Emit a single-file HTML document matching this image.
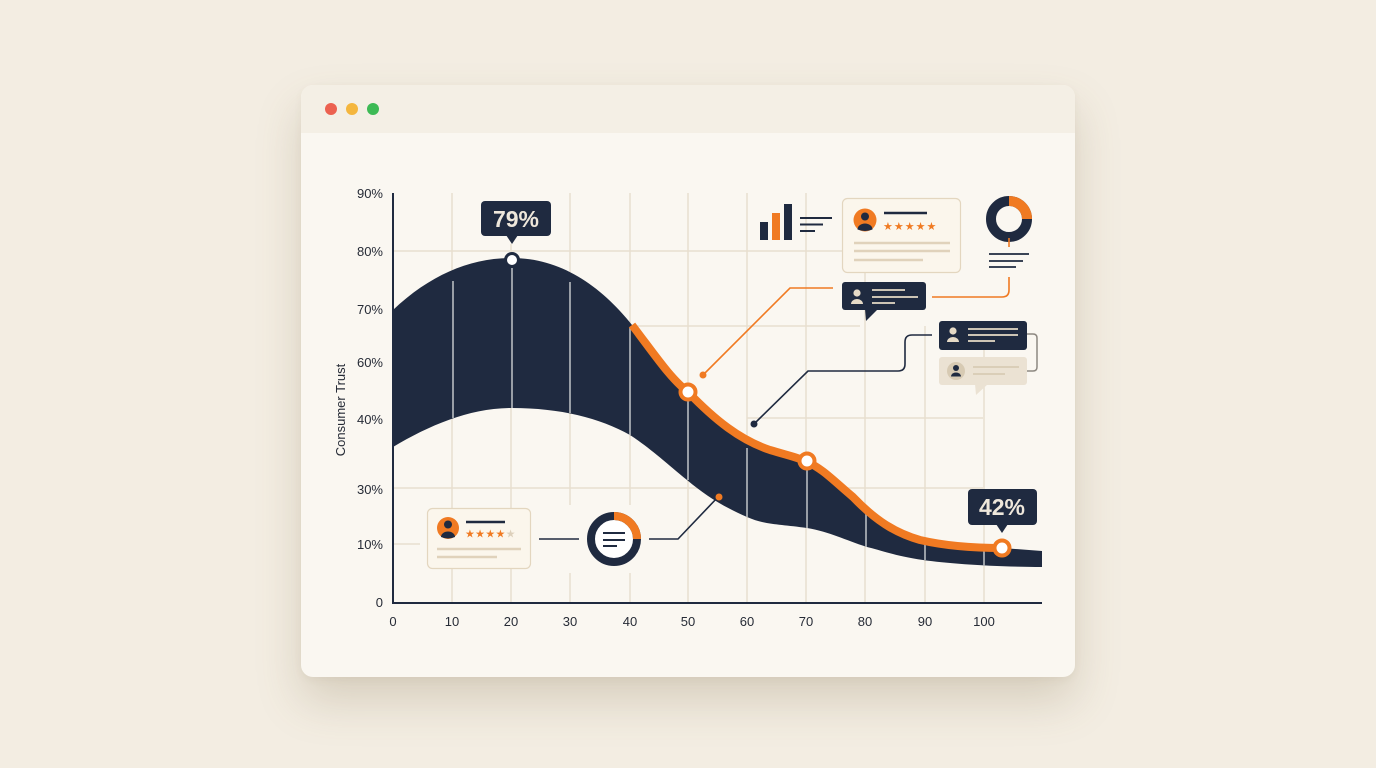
<!DOCTYPE html>
<html>
<head>
<meta charset="utf-8">
<style>
  html, body { margin:0; padding:0; }
  body { width:1376px; height:768px; background:#f3ede2; position:relative; overflow:hidden;
         font-family:"Liberation Sans", sans-serif; }
  .win { position:absolute; left:301px; top:85px; width:774px; height:592px; border-radius:12px;
         background:#faf7f1; box-shadow:0 24px 45px rgba(120,98,65,0.22), 0 3px 8px rgba(120,98,65,0.06); }
  .bar { position:absolute; left:0; top:0; width:774px; height:48px; border-radius:12px 12px 0 0; background:#f4efe5; }
  svg { position:absolute; left:0; top:0; }
</style>
</head>
<body>
<div class="win"><div class="bar"></div></div>
<svg width="1376" height="768" viewBox="0 0 1376 768" xmlns="http://www.w3.org/2000/svg">
  <!-- traffic lights -->
  <circle cx="331" cy="109" r="6" fill="#ec6150"/>
  <circle cx="352" cy="109" r="6" fill="#f4b63e"/>
  <circle cx="373" cy="109" r="6" fill="#3dba55"/>

  <!-- grid -->
  <g stroke="#e8dfcf" stroke-width="1.5" fill="none">
    <line x1="452" y1="193" x2="452" y2="603"/>
    <line x1="511" y1="244" x2="511" y2="603"/>
    <line x1="570" y1="193" x2="570" y2="603"/>
    <line x1="630" y1="193" x2="630" y2="603"/>
    <line x1="688" y1="193" x2="688" y2="603"/>
    <line x1="747" y1="193" x2="747" y2="603"/>
    <line x1="806" y1="193" x2="806" y2="603"/>
    <line x1="865" y1="273" x2="865" y2="603"/>
    <line x1="925" y1="326" x2="925" y2="603"/>
    <line x1="984" y1="350" x2="984" y2="603"/>
    <line x1="393" y1="251" x2="842" y2="251"/>
    <line x1="393" y1="326" x2="860" y2="326"/>
    <line x1="747" y1="418" x2="983" y2="418"/>
    <line x1="393" y1="488" x2="983" y2="488"/>
    <line x1="393" y1="544" x2="420" y2="544"/>
  </g>

  <!-- background covers -->
  <g fill="#faf7f1">
    <rect x="560" y="505" width="85" height="68"/>
  </g>

  <!-- dark band -->
  <path d="M393,310 C430,275 470,258 512,258 C560,258 600,285 632,325
           C655,355 670,378 688,392 C715,420 740,440 770,450 C790,456 800,458 807,462
           C822,468 835,482 853,497 C875,520 895,533 920,540 C950,547 980,548 1002,548
           L1042,551 L1042,567
           C1000,567 950,564 923,560 C895,556 880,550 867,547 C845,540 830,532 807,528
           C780,524 765,525 747,517 C720,505 705,495 687,480 C665,462 650,448 630,435
           C600,418 560,408 512,408 C470,408 430,425 393,447 Z" fill="#1f2a40"/>

  <!-- inner light lines -->
  <g stroke="#b8bbc0" stroke-width="1.6">
    <line x1="453" y1="281" x2="453" y2="418"/>
    <line x1="512" y1="268" x2="512" y2="408"/>
    <line x1="570" y1="282" x2="570" y2="413"/>
    <line x1="630" y1="328" x2="630" y2="435"/>
    <line x1="688" y1="400" x2="688" y2="480"/>
    <line x1="747" y1="448" x2="747" y2="517"/>
    <line x1="807" y1="470" x2="807" y2="528"/>
    <line x1="866" y1="513" x2="866" y2="547"/>
    <line x1="925" y1="543" x2="925" y2="560"/>
    <line x1="984" y1="551" x2="984" y2="566"/>
  </g>

  <!-- orange line -->
  <path d="M632,325 C655,355 670,378 688,392 C715,420 740,440 770,450 C790,456 800,458 807,462
           C822,468 835,482 853,497 C875,520 895,533 920,540 C950,547 980,548 1002,548"
        fill="none" stroke="#f07a22" stroke-width="8"/>

  <!-- axes -->
  <line x1="393" y1="193" x2="393" y2="604" stroke="#1f2a40" stroke-width="2"/>
  <line x1="392" y1="603" x2="1042" y2="603" stroke="#1f2a40" stroke-width="2"/>

  <!-- y labels -->
  <g font-family="Liberation Sans, sans-serif" font-size="13" fill="#262b36" text-anchor="end">
    <text x="383" y="198">90%</text>
    <text x="383" y="256">80%</text>
    <text x="383" y="314">70%</text>
    <text x="383" y="367">60%</text>
    <text x="383" y="424">40%</text>
    <text x="383" y="494">30%</text>
    <text x="383" y="549">10%</text>
    <text x="383" y="607">0</text>
  </g>
  <text transform="translate(345,410) rotate(-90)" text-anchor="middle" font-family="Liberation Sans, sans-serif" font-size="13" fill="#262b36">Consumer Trust</text>

  <!-- x labels -->
  <g font-family="Liberation Sans, sans-serif" font-size="13" fill="#262b36" text-anchor="middle">
    <text x="393" y="626">0</text>
    <text x="452" y="626">10</text>
    <text x="511" y="626">20</text>
    <text x="570" y="626">30</text>
    <text x="630" y="626">40</text>
    <text x="688" y="626">50</text>
    <text x="747" y="626">60</text>
    <text x="806" y="626">70</text>
    <text x="865" y="626">80</text>
    <text x="925" y="626">90</text>
    <text x="984" y="626">100</text>
  </g>

  <!-- markers -->
  <circle cx="512" cy="260" r="6.5" fill="#ffffff" stroke="#1f2a40" stroke-width="3"/>
  <circle cx="688" cy="392" r="7.5" fill="#ffffff" stroke="#f07a22" stroke-width="4"/>
  <circle cx="807" cy="461" r="7.5" fill="#ffffff" stroke="#f07a22" stroke-width="4"/>
  <circle cx="1002" cy="548" r="7.5" fill="#ffffff" stroke="#f07a22" stroke-width="4"/>

  <!-- tooltips -->
  <rect x="481" y="201" width="70" height="35" rx="4" fill="#1f2a40"/>
  <path d="M506,235 L518,235 L512,244 Z" fill="#1f2a40"/>
  <text x="516" y="227" text-anchor="middle" font-family="Liberation Sans, sans-serif" font-weight="bold" font-size="23" fill="#eee7db">79%</text>

  <rect x="968" y="489" width="69" height="36" rx="4" fill="#1f2a40"/>
  <path d="M996,524 L1008,524 L1002,533 Z" fill="#1f2a40"/>
  <text x="1002" y="515" text-anchor="middle" font-family="Liberation Sans, sans-serif" font-weight="bold" font-size="23" fill="#eee7db">42%</text>

  <!-- orange connector -->
  <path d="M703,375 L790,288 L833,288" fill="none" stroke="#f07a22" stroke-width="1.6"/>
  <circle cx="703" cy="375" r="3.5" fill="#f07a22"/>

  <!-- navy connector -->
  <path d="M754,424 L808,371 L898,371 Q905,371 905,364 V342 Q905,335 912,335 L932,335" fill="none" stroke="#1f2a40" stroke-width="1.6"/>
  <circle cx="754" cy="424" r="3.5" fill="#1f2a40"/>

  <!-- bar chart icon -->
  <rect x="760" y="222" width="8" height="18" fill="#1f2a40"/>
  <rect x="772" y="213" width="8" height="27" fill="#f07a22"/>
  <rect x="784" y="204" width="8" height="36" fill="#1f2a40"/>
  <g stroke="#1f2a40" stroke-width="2">
    <line x1="800" y1="218" x2="832" y2="218"/>
    <line x1="800" y1="224.5" x2="823" y2="224.5"/>
    <line x1="800" y1="231" x2="815" y2="231"/>
  </g>

  <!-- top review card -->
  <rect x="842.5" y="198.5" width="118" height="74" rx="5" fill="#fbf6ec" stroke="#e3d6bf" stroke-width="1.2"/>
  <circle cx="865" cy="220" r="11.5" fill="#f07a22"/>
  <circle cx="865" cy="216.5" r="4" fill="#1f2a40"/>
  <path d="M857.5,229.5 A7.5,6 0 0 1 872.5,229.5 Q865,232.5 857.5,229.5 Z" fill="#1f2a40"/>
  <line x1="884" y1="213" x2="927" y2="213" stroke="#1f2a40" stroke-width="2.5"/>
  <text x="883" y="230" font-family="DejaVu Sans, sans-serif" font-size="11" fill="#f07a22" letter-spacing="1">★★★★★</text>
  <g stroke="#e0d2bb" stroke-width="2.5">
    <line x1="854" y1="243" x2="950" y2="243"/>
    <line x1="854" y1="251" x2="950" y2="251"/>
    <line x1="854" y1="260" x2="923" y2="260"/>
  </g>

  <!-- dark bubble 1 -->
  <rect x="842" y="282" width="84" height="28" rx="3" fill="#1f2a40"/>
  <path d="M865,309 L878,309 L866,321 Z" fill="#1f2a40"/>
  <circle cx="857" cy="293" r="3.6" fill="#e6dac6"/>
  <path d="M851,304 A6,5 0 0 1 863,304 Z" fill="#e6dac6"/>
  <g stroke="#e6dac6" stroke-width="1.8">
    <line x1="872" y1="290" x2="905" y2="290"/>
    <line x1="872" y1="297" x2="918" y2="297"/>
    <line x1="872" y1="303" x2="895" y2="303"/>
  </g>

  <!-- top-right donut -->
  <circle cx="1009" cy="219" r="18" fill="none" stroke="#1f2a40" stroke-width="10"/>
  <path d="M1009,201 A18,18 0 0 1 1027,219" fill="none" stroke="#f07a22" stroke-width="10"/>
  <line x1="1009" y1="238" x2="1009" y2="247" stroke="#f07a22" stroke-width="1.6"/>
  <g stroke="#1f2a40" stroke-width="1.8">
    <line x1="989" y1="254" x2="1029" y2="254"/>
    <line x1="989" y1="261" x2="1023" y2="261"/>
    <line x1="989" y1="267" x2="1016" y2="267"/>
  </g>
  <path d="M1009,277 V290 Q1009,297 1002,297 L932,297" fill="none" stroke="#f07a22" stroke-width="1.6"/>

  <!-- dark bubble 2 -->
  <rect x="939" y="321" width="88" height="29" rx="3" fill="#1f2a40"/>
  <circle cx="953" cy="331" r="3.6" fill="#e6dac6"/>
  <path d="M947,342 A6,5 0 0 1 959,342 Z" fill="#e6dac6"/>
  <g stroke="#e6dac6" stroke-width="1.8">
    <line x1="968" y1="329" x2="1018" y2="329"/>
    <line x1="968" y1="335" x2="1018" y2="335"/>
    <line x1="968" y1="341" x2="995" y2="341"/>
  </g>

  <!-- beige bubble -->
  <rect x="939" y="357" width="88" height="28" rx="3" fill="#ebe2d3"/>
  <path d="M975,384 L988,384 L976,395 Z" fill="#ebe2d3"/>
  <circle cx="956" cy="371" r="9" fill="#d7cab3"/>
  <circle cx="956" cy="368" r="3" fill="#1f2a40"/>
  <path d="M951,376.5 A5,4 0 0 1 961,376.5 Z" fill="#1f2a40"/>
  <g stroke="#d8cbb5" stroke-width="1.8">
    <line x1="973" y1="367" x2="1019" y2="367"/>
    <line x1="973" y1="374" x2="1005" y2="374"/>
  </g>

  <!-- gray bracket -->
  <path d="M1027,334 H1033 Q1037,334 1037,338 V367 Q1037,371 1033,371 H1027" fill="none" stroke="#8d8881" stroke-width="1.5"/>

  <!-- bottom-left review card -->
  <rect x="427.5" y="508.5" width="103" height="60" rx="5" fill="#fbf6ec" stroke="#e3d6bf" stroke-width="1.2"/>
  <circle cx="448" cy="528" r="11" fill="#f07a22"/>
  <circle cx="448" cy="524.5" r="4" fill="#1f2a40"/>
  <path d="M441,537 A7,5.5 0 0 1 455,537 Q448,540 441,537 Z" fill="#1f2a40"/>
  <line x1="466" y1="522" x2="505" y2="522" stroke="#1f2a40" stroke-width="2.5"/>
  <text x="465" y="537.5" font-family="DejaVu Sans, sans-serif" font-size="11" fill="#f07a22" letter-spacing="0.3">★★★★<tspan fill="#ddd0bb">★</tspan></text>
  <g stroke="#e0d2bb" stroke-width="2.5">
    <line x1="437" y1="549" x2="521" y2="549"/>
    <line x1="437" y1="557" x2="497" y2="557"/>
  </g>

  <!-- bottom connectors & donut -->
  <line x1="539" y1="539" x2="579" y2="539" stroke="#1f2a40" stroke-width="1.6"/>
  <path d="M649,539 L678,539 L718,497" fill="none" stroke="#1f2a40" stroke-width="1.6"/>
  <circle cx="719" cy="497" r="3.5" fill="#f07a22"/>
  <circle cx="614" cy="539" r="19" fill="#ffffff"/>
  <circle cx="614" cy="539" r="23" fill="none" stroke="#1f2a40" stroke-width="8"/>
  <path d="M614,516 A23,23 0 0 1 637,539" fill="none" stroke="#f07a22" stroke-width="8"/>
  <g stroke="#1f2a40" stroke-width="2">
    <line x1="603" y1="533" x2="625" y2="533"/>
    <line x1="603" y1="540" x2="625" y2="540"/>
    <line x1="603" y1="546" x2="617" y2="546"/>
  </g>
</svg>
</body>
</html>
